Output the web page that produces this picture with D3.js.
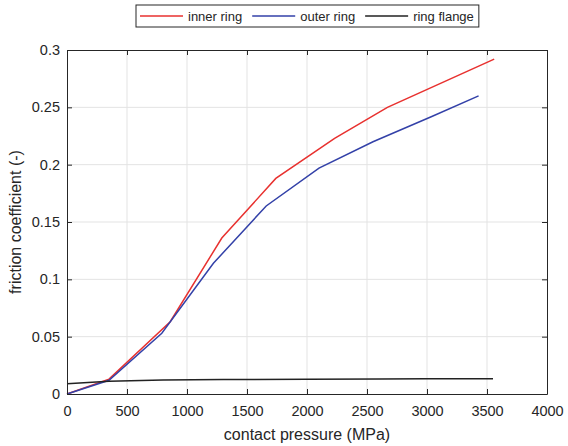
<!DOCTYPE html>
<html>
<head>
<meta charset="utf-8">
<script src="https://cdn.jsdelivr.net/npm/d3@7"></script>
<style>
    body { margin: 0; background: #fff; }
    svg text { font-family: "Liberation Sans", Arial, sans-serif; fill: #262626; }
</style>
</head>
<body>
<svg id="chart" width="568" height="446"></svg>
<script>
// pressure (MPa) / friction coefficient
const inner_p = [0, 350, 860, 1290, 1740, 2230, 2670, 3560];
const inner_f = [0, 0.013, 0.063, 0.136, 0.188, 0.223, 0.250, 0.292];

const outer_p = [0, 350, 790, 1220, 1660, 2100, 2550, 3040, 3430];
const outer_f = [0, 0.012, 0.053, 0.114, 0.164, 0.197, 0.220, 0.242, 0.260];

const flange_p = [0, 350, 800, 1300, 2000, 2600, 3000, 3550];
const flange_f = [0.009, 0.0112, 0.0122, 0.0126, 0.0129, 0.0131, 0.0132, 0.0133];

const x_ticks = [0, 500, 1000, 1500, 2000, 2500, 3000, 3500, 4000];
const y_ticks = [0, 0.05, 0.1, 0.15, 0.2, 0.25, 0.3];

const series = [
    { name: "inner ring", p: inner_p, f: inner_f, color: "#e8312f" },
    { name: "outer ring", p: outer_p, f: outer_f, color: "#3341a8" },
    { name: "ring flange", p: flange_p, f: flange_f, color: "#222222" }
];

const margin = { top: 50, right: 21, bottom: 52, left: 67 };
const W = 568, H = 446;
const w = W - margin.left - margin.right,
      h = H - margin.top - margin.bottom;

const svg = d3.select("#chart");
const g = svg.append("g")
    .attr("transform", "translate(" + margin.left + "," + margin.top + ")");

const scaleX = d3.scaleLinear().domain([0, 4000]).range([0, w]);
const scaleY = d3.scaleLinear().domain([0, 0.3]).range([h, 0]);

// grid
g.append("g")
    .selectAll("line")
    .data(x_ticks.slice(1, -1)).enter()
    .append("line")
    .attr("x1", d => scaleX(d)).attr("x2", d => scaleX(d))
    .attr("y1", 0).attr("y2", h)
    .attr("stroke", "#e3e3e3");
g.append("g")
    .selectAll("line")
    .data(y_ticks.slice(1, -1)).enter()
    .append("line")
    .attr("y1", d => scaleY(d)).attr("y2", d => scaleY(d))
    .attr("x1", 0).attr("x2", w)
    .attr("stroke", "#e3e3e3");

// lines
const line = d3.line().x(d => scaleX(d[0])).y(d => scaleY(d[1]));
series.forEach(s => {
    g.append("path")
        .datum(s.p.map((p, i) => [p, s.f[i]]))
        .attr("fill", "none")
        .attr("stroke", s.color)
        .attr("stroke-width", 1.5)
        .attr("d", line);
});

// axes (ticks inside, mirrored)
const axisB = d3.axisBottom(scaleX).tickValues(x_ticks).tickSize(-5).tickPadding(12)
    .tickFormat(d3.format("d")).tickSizeOuter(0);
const axisT = d3.axisTop(scaleX).tickValues(x_ticks).tickSize(-5).tickFormat("").tickSizeOuter(0);
const axisL = d3.axisLeft(scaleY).tickValues(y_ticks).tickSize(-5).tickPadding(7)
    .tickFormat(d3.format("~g")).tickSizeOuter(0);
const axisR = d3.axisRight(scaleY).tickValues(y_ticks).tickSize(-5).tickFormat("").tickSizeOuter(0);

const gb = g.append("g").attr("transform", "translate(0," + h + ")").call(axisB);
const gt = g.append("g").call(axisT);
const gl = g.append("g").call(axisL);
const gr = g.append("g").attr("transform", "translate(" + w + ",0)").call(axisR);

[gb, gt, gl, gr].forEach(a => {
    a.select(".domain").attr("stroke", "#262626");
    a.selectAll(".tick line").attr("stroke", "#262626");
    a.selectAll(".tick text").style("font-size", "14.5px").attr("fill", "#262626");
});

// axis titles
g.append("text")
    .attr("x", w / 2)
    .attr("y", h + 46)
    .attr("text-anchor", "middle")
    .style("font-size", "16px")
    .text("contact pressure (MPa)");

g.append("text")
    .attr("transform", "rotate(-90)")
    .attr("x", -h / 2)
    .attr("y", -46)
    .attr("text-anchor", "middle")
    .style("font-size", "16px")
    .text("friction coefficient (-)");

// legend
const legend = svg.append("g").attr("transform", "translate(136,5)");
const legendBox = legend.append("rect")
    .attr("x", 0).attr("y", 0)
    .attr("height", 22)
    .attr("fill", "#fff")
    .attr("stroke", "#262626")
    .attr("stroke-width", 1);

let lx = 4;
series.forEach(s => {
    legend.append("line")
        .attr("x1", lx).attr("x2", lx + 43)
        .attr("y1", 11).attr("y2", 11)
        .attr("stroke", s.color)
        .attr("stroke-width", 1.5);
    const t = legend.append("text")
        .attr("x", lx + 48)
        .attr("y", 15.5)
        .style("font-size", "13px")
        .text(s.name);
    lx += 48 + t.node().getComputedTextLength() + 10;
});
legendBox.attr("width", lx - 5);
</script>
</body>
</html>
